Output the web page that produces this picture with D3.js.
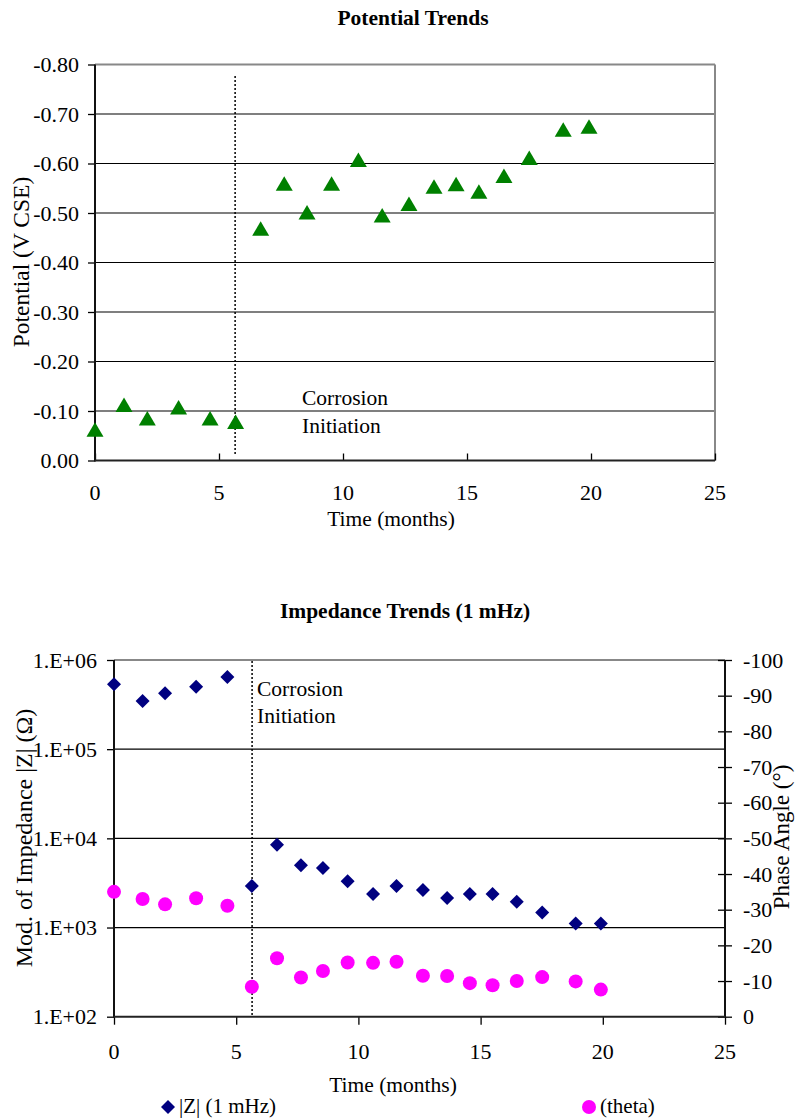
<!DOCTYPE html>
<html>
<head>
<meta charset="utf-8">
<script src="https://cdn.jsdelivr.net/npm/d3@7"></script>
<style>
body { margin: 0; background: #fff; }
text { font-family: "Liberation Serif", "Times New Roman", serif; fill: #000; }
</style>
</head>
<body>
<svg id="chart"></svg>
<script>
var W = 796, H = 1119

// potential trends
var potTime = [0, 1.17, 2.11, 3.37, 4.64, 5.67, 6.68, 7.63, 8.55, 9.54, 10.62, 11.58, 12.66, 13.67, 14.56, 15.48, 16.49, 17.51, 18.88, 19.92]
var potential = [-0.062, -0.112, -0.085, -0.107, -0.085, -0.078, -0.468, -0.559, -0.501, -0.559, -0.607, -0.495, -0.518, -0.553, -0.558, -0.543, -0.575, -0.611, -0.668, -0.674]
var potTicks = [0, -0.1, -0.2, -0.3, -0.4, -0.5, -0.6, -0.7, -0.8]

// impedance trends
var impTime = [0, 1.17, 2.09, 3.36, 4.64, 5.64, 6.67, 7.65, 8.55, 9.56, 10.6, 11.56, 12.64, 13.63, 14.56, 15.49, 16.48, 17.52, 18.89, 19.92]
var modZ = [5.35e5, 3.47e5, 4.24e5, 5.0e5, 6.45e5, 2.93e3, 8.5e3, 5.0e3, 4.66e3, 3.3e3, 2.38e3, 2.93e3, 2.64e3, 2.14e3, 2.38e3, 2.38e3, 1.95e3, 1.47e3, 1.11e3, 1.11e3]
var theta = [-35, -33, -31.5, -33.2, -31.1, -8.4, -16.4, -11, -12.8, -15.2, -15.1, -15.4, -11.5, -11.4, -9.4, -8.8, -10, -11.1, -9.9, -7.6]
var zTicks = [1e2, 1e3, 1e4, 1e5, 1e6]
var zTickLabels = ["1.E+02", "1.E+03", "1.E+04", "1.E+05", "1.E+06"]
var phaseTicks = [0, -10, -20, -30, -40, -50, -60, -70, -80, -90, -100]

var timeTicks = [0, 5, 10, 15, 20, 25]
var initiation = 5.65

var fs = 21.5      // general text
var tickFs = 22    // tick labels
var yTitleFs = 23.5

var svg = d3.select("#chart")
.attr("width", W)
.attr("height", H)

function hyphen(f) {
    return function(d) { return f(d).replace("\u2212", "-"); }
}

function styleAxis(g) {
    g.select(".domain").remove()
    g.selectAll("text").style("font-size", tickFs + "px").style("font-family", "Liberation Serif")
    g.selectAll("line").attr("stroke", "#000").attr("stroke-width", 1.3)
}

// ---------- top chart ----------
var x1 = d3.scaleLinear().domain([0, 25]).range([95, 715])
var y1 = d3.scaleLinear().domain([0, -0.8]).range([460.5, 64.5])

var topG = svg.append("g")

topG.selectAll("line.grid")
.data(potTicks.slice(1))
.enter()
.append("line")
.attr("x1", x1(0)).attr("x2", x1(25))
.attr("y1", function(d) { return y1(d); })
.attr("y2", function(d) { return y1(d); })
.attr("stroke", function(d) { return d == -0.8 ? "#888" : "#000"; })
.attr("stroke-width", function(d) { return d == -0.8 ? 2 : 1.2; })

topG.append("line")
.attr("x1", x1(25)).attr("x2", x1(25))
.attr("y1", y1(-0.8)).attr("y2", y1(0))
.attr("stroke", "#888").attr("stroke-width", 2)

topG.append("g")
.attr("transform", "translate(" + x1(0) + ",0)")
.call(d3.axisLeft(y1).tickValues(potTicks).tickFormat(hyphen(d3.format(".2f"))).tickSize(7).tickPadding(9))
.call(styleAxis)

topG.append("g")
.attr("transform", "translate(0," + y1(0) + ")")
.call(d3.axisTop(x1).tickValues(timeTicks).tickSize(7).tickFormat(""))
.call(styleAxis)

topG.selectAll("text.xt")
.data(timeTicks)
.enter()
.append("text")
.attr("x", function(d) { return x1(d); })
.attr("y", 500)
.attr("text-anchor", "middle")
.style("font-size", tickFs + "px")
.text(function(d) { return d; })

topG.append("line")
.attr("x1", x1(0)).attr("x2", x1(0))
.attr("y1", y1(-0.8)).attr("y2", y1(0) + 1)
.attr("stroke", "#111").attr("stroke-width", 2)
topG.append("line")
.attr("x1", x1(0)).attr("x2", x1(25))
.attr("y1", y1(0)).attr("y2", y1(0))
.attr("stroke", "#222").attr("stroke-width", 2)

topG.append("line")
.attr("x1", x1(initiation)).attr("x2", x1(initiation))
.attr("y1", 76).attr("y2", 454)
.attr("stroke", "#000").attr("stroke-width", 1.5)
.attr("stroke-dasharray", "2,2")

topG.selectAll("path.tri")
.data(potTime)
.enter()
.append("path")
.attr("d", function(d, i) {
    var cx = x1(d), cy = y1(potential[i])
    return "M" + cx + "," + (cy - 7.5) + "L" + (cx + 8.5) + "," + (cy + 7) + "L" + (cx - 8.5) + "," + (cy + 7) + "Z"
})
.attr("fill", "#008000")

topG.append("text").attr("x", 302).attr("y", 405).style("font-size", fs + "px").text("Corrosion")
topG.append("text").attr("x", 302).attr("y", 433).style("font-size", fs + "px").text("Initiation")

topG.append("text")
.attr("x", 413).attr("y", 25)
.attr("text-anchor", "middle")
.style("font-size", "21.5px").style("font-weight", "bold")
.text("Potential Trends")

topG.append("text")
.attr("x", 391).attr("y", 526)
.attr("text-anchor", "middle")
.style("font-size", fs + "px")
.text("Time (months)")

topG.append("text")
.attr("transform", "translate(29,262) rotate(-90)")
.attr("text-anchor", "middle")
.style("font-size", yTitleFs + "px")
.text("Potential (V CSE)")

// ---------- bottom chart ----------
var x2 = d3.scaleLinear().domain([0, 25]).range([114, 725])
var y2 = d3.scaleLog().domain([1e2, 1e6]).range([1016.7, 660])
var y3 = d3.scaleLinear().domain([0, -100]).range([1016.7, 660])

var bot = svg.append("g")

bot.selectAll("line.grid")
.data(zTicks.slice(1))
.enter()
.append("line")
.attr("x1", x2(0)).attr("x2", x2(25))
.attr("y1", function(d) { return y2(d); })
.attr("y2", function(d) { return y2(d); })
.attr("stroke", function(d) { return d == 1e6 ? "#888" : "#000"; })
.attr("stroke-width", function(d) { return d == 1e6 ? 2 : 1.2; })

bot.append("g")
.attr("transform", "translate(" + x2(0) + ",0)")
.call(d3.axisLeft(y2).tickValues(zTicks).tickFormat(function(d, i) { return zTickLabels[i]; }).tickSize(7).tickPadding(10))
.call(styleAxis)

bot.append("g")
.attr("transform", "translate(" + x2(25) + ",0)")
.call(d3.axisRight(y3).tickValues(phaseTicks).tickFormat(hyphen(d3.format("d"))).tickSize(7).tickPadding(11))
.call(styleAxis)
.selectAll("line").attr("x1", -7)

bot.append("g")
.attr("transform", "translate(0," + y2(1e2) + ")")
.call(d3.axisBottom(x2).tickValues(timeTicks).tickSize(8).tickFormat(""))
.call(styleAxis)

bot.selectAll("text.xt")
.data(timeTicks)
.enter()
.append("text")
.attr("x", function(d) { return x2(d); })
.attr("y", 1059)
.attr("text-anchor", "middle")
.style("font-size", tickFs + "px")
.text(function(d) { return d; })

bot.append("line")
.attr("x1", x2(0)).attr("x2", x2(0))
.attr("y1", 660).attr("y2", y2(1e2) + 1)
.attr("stroke", "#111").attr("stroke-width", 2)
bot.append("line")
.attr("x1", x2(25)).attr("x2", x2(25))
.attr("y1", 660).attr("y2", y2(1e2) + 1)
.attr("stroke", "#111").attr("stroke-width", 2)
bot.append("line")
.attr("x1", x2(0)).attr("x2", x2(25))
.attr("y1", y2(1e2)).attr("y2", y2(1e2))
.attr("stroke", "#222").attr("stroke-width", 2)

bot.append("line")
.attr("x1", x2(initiation)).attr("x2", x2(initiation))
.attr("y1", 661).attr("y2", 1016)
.attr("stroke", "#000").attr("stroke-width", 1.5)
.attr("stroke-dasharray", "2,2")

bot.selectAll("path.dia")
.data(impTime)
.enter()
.append("path")
.attr("d", function(d, i) {
    var cx = x2(d), cy = y2(modZ[i])
    return "M" + cx + "," + (cy - 7) + "L" + (cx + 7) + "," + cy + "L" + cx + "," + (cy + 7) + "L" + (cx - 7) + "," + cy + "Z"
})
.attr("fill", "#000080")

bot.selectAll("circle.th")
.data(impTime)
.enter()
.append("circle")
.attr("cx", function(d) { return x2(d); })
.attr("cy", function(d, i) { return y3(theta[i]); })
.attr("r", 7)
.attr("fill", "#ff00ff")

bot.append("text").attr("x", 257).attr("y", 696).style("font-size", fs + "px").text("Corrosion")
bot.append("text").attr("x", 257).attr("y", 723).style("font-size", fs + "px").text("Initiation")

bot.append("text")
.attr("x", 405).attr("y", 618)
.attr("text-anchor", "middle")
.style("font-size", "21.5px").style("font-weight", "bold")
.text("Impedance Trends (1 mHz)")

bot.append("text")
.attr("x", 393).attr("y", 1092)
.attr("text-anchor", "middle")
.style("font-size", fs + "px")
.text("Time (months)")

bot.append("text")
.attr("transform", "translate(32,838) rotate(-90)")
.attr("text-anchor", "middle")
.style("font-size", "24px")
.text("Mod. of Impedance |Z| (Ω)")

bot.append("text")
.attr("transform", "translate(789,837) rotate(-90)")
.attr("text-anchor", "middle")
.style("font-size", "23px")
.text("Phase Angle (°)")

// legend
bot.append("path")
.attr("d", "M168,1100L175,1107L168,1114L161,1107Z")
.attr("fill", "#000080")
bot.append("text").attr("x", 179).attr("y", 1113).style("font-size", "21px").text("|Z| (1 mHz)")
bot.append("circle").attr("cx", 589).attr("cy", 1107).attr("r", 7).attr("fill", "#ff00ff")
bot.append("text").attr("x", 600).attr("y", 1113).style("font-size", "21px").text("(theta)")
</script>
</body>
</html>
